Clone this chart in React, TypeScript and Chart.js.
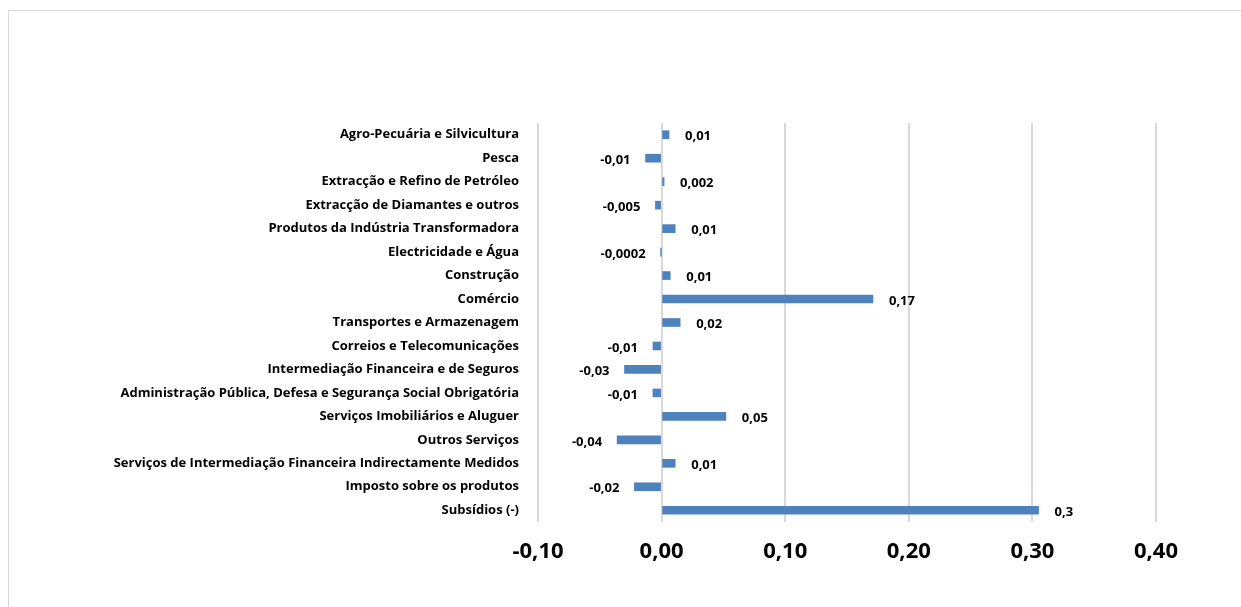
import React, { useEffect, useRef } from "react";
import { Chart, registerables } from "chart.js";

Chart.register(...registerables);

const categories: string[] = [
  "Agro-Pecuária e Silvicultura",
  "Pesca",
  "Extracção e Refino de Petróleo",
  "Extracção de Diamantes e outros",
  "Produtos da Indústria Transformadora",
  "Electricidade e Água",
  "Construção",
  "Comércio",
  "Transportes e Armazenagem",
  "Correios e Telecomunicações",
  "Intermediação Financeira e de Seguros",
  "Administração Pública, Defesa e Segurança Social Obrigatória",
  "Serviços Imobiliários e Aluguer",
  "Outros Serviços",
  "Serviços de Intermediação Financeira Indirectamente Medidos",
  "Imposto sobre os produtos",
  "Subsídios (-)",
];

const values: number[] = [
  0.006, -0.013, 0.002, -0.005, 0.011, -0.0002, 0.007, 0.171, 0.015, -0.007,
  -0.03, -0.007, 0.052, -0.036, 0.011, -0.022, 0.305,
];

const valueLabels: string[] = [
  "0,01", "-0,01", "0,002", "-0,005", "0,01", "-0,0002", "0,01", "0,17", "0,02",
  "-0,01", "-0,03", "-0,01", "0,05", "-0,04", "0,01", "-0,02", "0,3",
];

const xTicks = { min: -0.1, max: 0.4, step: 0.1 };

const FONT = "'Open Sans', sans-serif";

const labelPlugin = {
  id: "barValueLabels",
  afterDatasetsDraw(chart: any) {
    const ctx = chart.ctx;
    const meta = chart.getDatasetMeta(0);
    ctx.save();
    ctx.font = `bold 13px ${FONT}`;
    ctx.fillStyle = "#000";
    ctx.textBaseline = "middle";
    meta.data.forEach((el: any, i: number) => {
      const v = values[i];
      const txt = valueLabels[i];
      if (v >= 0) {
        ctx.textAlign = "left";
        ctx.fillText(txt, Math.max(el.x, el.base) + 16, el.y + 2);
      } else {
        ctx.textAlign = "right";
        ctx.fillText(txt, Math.min(el.x, el.base) - 15, el.y + 2);
      }
    });
    ctx.restore();
  },
};

export default function App() {
  const canvasRef = useRef<HTMLCanvasElement | null>(null);

  useEffect(() => {
    if (!canvasRef.current) return;
    const chart = new Chart(canvasRef.current, {
      type: "bar",
      data: {
        labels: categories,
        datasets: [
          {
            data: values,
            backgroundColor: "#4f81bd",
            borderWidth: 0,
            barThickness: 8,
          },
        ],
      },
      options: {
        indexAxis: "y",
        animation: false,
        responsive: true,
        maintainAspectRatio: false,
        layout: { padding: { top: 112, right: 85, bottom: 0, left: 0 } },
        plugins: {
          legend: { display: false },
          tooltip: { enabled: false },
        },
        scales: {
          x: {
            min: xTicks.min,
            max: xTicks.max,
            border: { display: false },
            grid: { color: "#d9d9d9", lineWidth: 2, drawTicks: false },
            ticks: {
              stepSize: xTicks.step,
              padding: 17,
              color: "#000",
              font: { family: FONT, size: 22, weight: "bold" },
              callback: (v: any) => Number(v).toFixed(2).replace(".", ","),
            },
            afterFit: (scale: any) => {
              scale.height = 85;
            },
          },
          y: {
            border: { display: false },
            grid: { display: false, drawTicks: false },
            ticks: {
              padding: 19,
              color: "#000",
              font: { family: FONT, size: 13, weight: "bold" },
              autoSkip: false,
            },
            afterFit: (scale: any) => {
              scale.width = 529;
            },
          },
        },
      },
      plugins: [labelPlugin],
    });
    return () => chart.destroy();
  }, []);

  return (
    <div
      style={{
        position: "fixed",
        left: 8,
        top: 10,
        width: 1300,
        height: 700,
        borderTop: "1px solid #d9d9d9",
        borderLeft: "1px solid #d9d9d9",
      }}
    >
      <div style={{ width: 1232, height: 596, position: "relative" }}>
        <canvas ref={canvasRef} style={{ display: "block" }} />
      </div>
    </div>
  );
}
